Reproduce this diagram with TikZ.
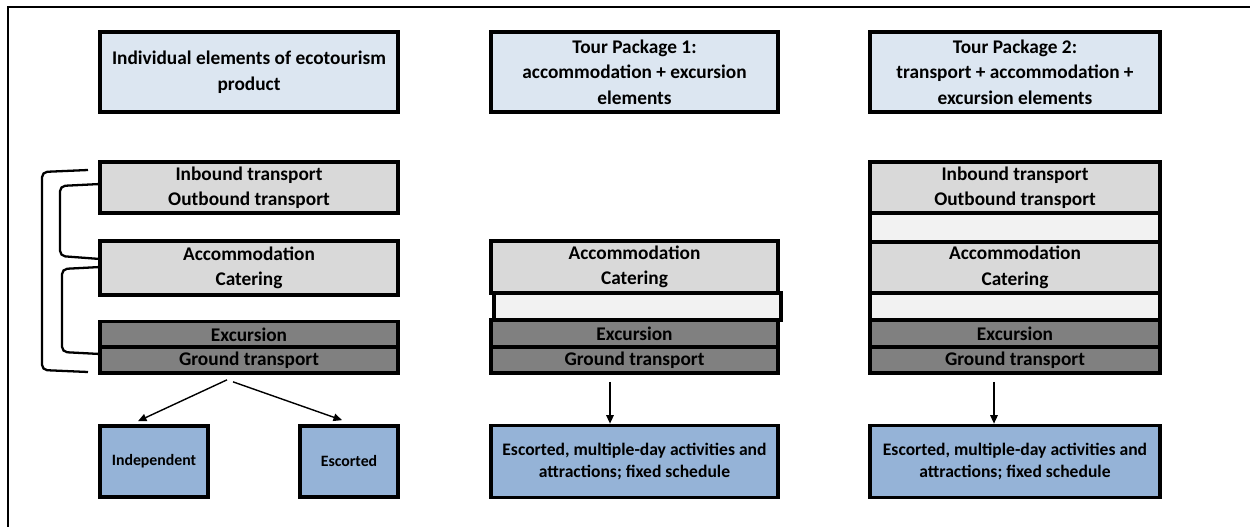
\documentclass[tikz,border=0pt]{standalone}
\usepackage{fontspec}
\setmainfont{Carlito}
\usetikzlibrary{arrows.meta}
\definecolor{hdrblue}{HTML}{DCE6F1}
\definecolor{lgray}{HTML}{D9D9D9}
\definecolor{pale}{HTML}{F2F2F2}
\definecolor{dgray}{HTML}{808080}
\definecolor{boxblue}{HTML}{95B3D7}

\begin{document}
\begin{tikzpicture}[
    box/.style={draw=black,line width=2.1pt,inner sep=0pt,align=center,
                font=\fontsize{11}{14.5}\selectfont\bfseries},
    hdr/.style={box,fill=hdrblue,minimum height=1.6cm},
    light/.style={box,fill=lgray},
    blank/.style={box,fill=pale,minimum height=0.54cm},
    dark/.style={box,fill=dgray,minimum height=0.52cm},
    result/.style={box,fill=boxblue,minimum height=1.44cm,
                font=\fontsize{10}{12.5}\selectfont\bfseries},
    brace/.style={line width=1.3pt,rounded corners=3pt},
    arr/.style={-{Triangle[length=0.17cm,width=0.15cm]},line width=0.8pt}]

    \useasboundingbox (0,0) rectangle (25,-10.54);
    \draw[line width=1.6pt] (25,-0.14) -- (0.16,-0.14) -- (0.16,-10.54);

    % headers
    \node[hdr,minimum width=5.96cm] (h0) at (4.98,-1.44) {Individual elements of ecotourism\\product};
    \node[hdr,minimum width=5.74cm] (h1) at (12.69,-1.44) {Tour Package 1:\\accommodation + excursion\\elements};
    \node[hdr,minimum width=5.8cm] (h2) at (20.3,-1.44) {Tour Package 2:\\transport + accommodation +\\excursion elements};

    % individual elements
    \node[light,minimum width=5.96cm,minimum height=1.02cm] (ib0) at (4.98,-3.75) {Inbound transport\\Outbound transport};
    \node[light,minimum width=5.96cm,minimum height=1.08cm] (ac0) at (4.98,-5.36) {Accommodation\\Catering};
    \node[dark,minimum width=5.96cm] (ex0) at (4.98,-6.69) {Excursion};
    \node[dark,minimum width=5.96cm] (gt0) at (4.98,-7.2) {Ground transport};

    \draw[brace] (1.76,-3.40) -- (0.84,-3.44) -- (0.84,-7.40) -- (1.76,-7.44);
    \draw[brace] (2.0,-3.68) -- (1.2,-3.72) -- (1.2,-5.12) -- (2.0,-5.18);
    \draw[brace] (2.0,-5.34) -- (1.24,-5.38) -- (1.24,-7.04) -- (2.0,-7.08);

    % tour package 1
    \node[light,minimum width=5.74cm,minimum height=1.04cm] (ac1) at (12.69,-5.34) {Accommodation\\Catering};
    \node[blank,minimum width=5.74cm] (bl1) at (12.75,-6.13) {};
    \node[dark,minimum width=5.74cm,minimum height=0.54cm] (ex1) at (12.69,-6.67) {Excursion};
    \node[dark,minimum width=5.74cm] (gt1) at (12.69,-7.2) {Ground transport};

    % tour package 2
    \node[light,minimum width=5.8cm,minimum height=1.02cm] (ib2) at (20.3,-3.75) {Inbound transport\\Outbound transport};
    \node[blank,minimum width=5.8cm,minimum height=0.58cm] (bl2a) at (20.3,-4.55) {};
    \node[light,minimum width=5.8cm,minimum height=1.02cm] (ac2) at (20.3,-5.35) {Accommodation\\Catering};
    \node[blank,minimum width=5.8cm] (bl2b) at (20.3,-6.13) {};
    \node[dark,minimum width=5.8cm,minimum height=0.54cm] (ex2) at (20.3,-6.67) {Excursion};
    \node[dark,minimum width=5.8cm] (gt2) at (20.3,-7.2) {Ground transport};

    % outcomes
    \node[result,minimum width=2.16cm,minimum height=1.42cm,font=\fontsize{9}{11}\selectfont\bfseries] (ind) at (3.08,-9.23) {Independent};
    \node[result,minimum width=1.96cm,minimum height=1.42cm,font=\fontsize{9}{11}\selectfont\bfseries] (esc) at (6.98,-9.23) {Escorted};
    \node[result,minimum width=5.74cm] (out1) at (12.69,-9.23) {Escorted, multiple-day activities and\\attractions; fixed schedule};
    \node[result,minimum width=5.8cm] (out2) at (20.3,-9.23) {Escorted, multiple-day activities and\\attractions; fixed schedule};

    \draw[arr] ([xshift=-0.44cm,yshift=-0.1cm]gt0.south) -- ([xshift=-0.32cm,yshift=0.06cm]ind.north);
    \draw[arr] ([xshift=-0.32cm,yshift=-0.14cm]gt0.south) -- ([xshift=-0.14cm,yshift=0.08cm]esc.north);
    \draw[arr] ([xshift=-0.49cm,yshift=-0.14cm]gt1.south) -- ([xshift=-0.49cm]out1.north);
    \draw[arr] ([xshift=-0.42cm,yshift=-0.14cm]gt2.south) -- ([xshift=-0.42cm]out2.north);

\end{tikzpicture}
\end{document}
